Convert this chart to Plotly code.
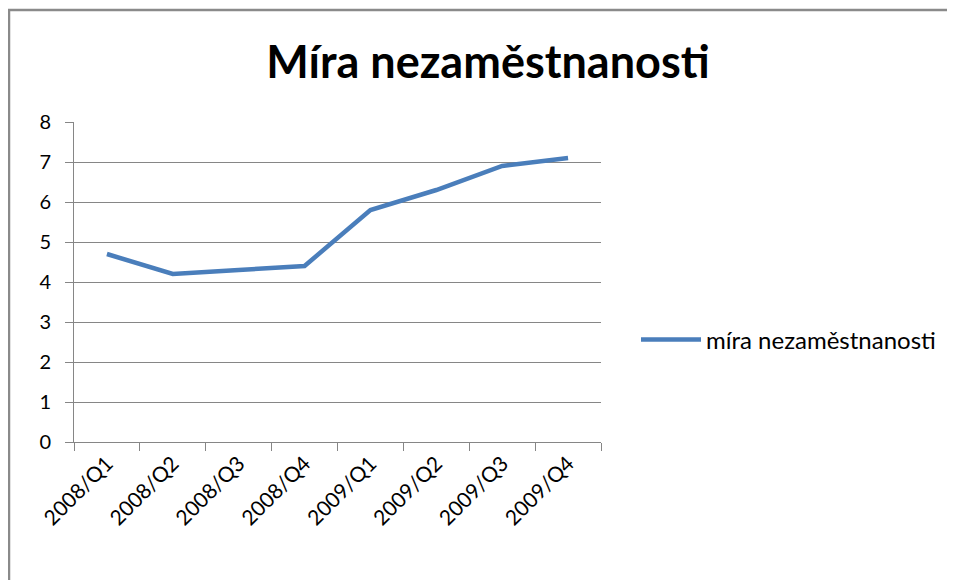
import plotly.graph_objects as go

categories = ["2008/Q1", "2008/Q2", "2008/Q3", "2008/Q4",
              "2009/Q1", "2009/Q2", "2009/Q3", "2009/Q4"]
values = [4.7, 4.2, 4.3, 4.4, 5.8, 6.3, 6.9, 7.1]
series_name = "míra nezaměstnanosti"
title_text = "Míra nezaměstnanosti"
y_ticks = [0, 1, 2, 3, 4, 5, 6, 7, 8]

# page body has an 8px margin, so compensate in the figure geometry
OFF = 8
W, H = 955 - OFF, 580 - OFF
L, T = 74 - OFF, 122 - OFF
pw, ph = 527, 320
R, B = W - L - pw, H - T - ph

FONT = "Lato, Calibri, Carlito, sans-serif"
GRID = "#868686"


def px_x(x):
    return (x - OFF - L) / pw


def px_y(y):
    return (T + ph - (y - OFF)) / ph


fig = go.Figure()
fig.add_trace(go.Scatter(
    x=categories, y=values, mode="lines", name=series_name,
    line=dict(color="#4a7ebb", width=4.5),
    showlegend=True,
))

fig.update_layout(
    width=W, height=H,
    margin=dict(l=L, r=R, t=T, b=B),
    paper_bgcolor="white", plot_bgcolor="white",
    font=dict(family=FONT, color="#000000"),
    title=dict(text="<b>" + title_text + "</b>", x=(488 - OFF) / W, xanchor="center",
               y=1 - (62 - OFF) / H, yanchor="middle",
               font=dict(size=45, family=FONT, color="#000000")),
    showlegend=True,
    legend=dict(x=px_x(636), xanchor="left", y=px_y(340), yanchor="middle",
                font=dict(size=24, family=FONT, color="#000000"),
                itemwidth=60, bgcolor="rgba(0,0,0,0)"),
    xaxis=dict(
        type="category", range=[-0.5, 7.5],
        showline=True, linecolor=GRID, linewidth=1,
        ticks="outside", tickson="boundaries", ticklen=8, tickcolor=GRID,
        showgrid=False, tickangle=-45,
        tickfont=dict(size=21, family=FONT, color="#000000"),
        zeroline=False,
    ),
    yaxis=dict(
        range=[0, 8], tickvals=y_ticks,
        showline=True, linecolor=GRID, linewidth=1,
        ticks="outside", ticklen=8, tickcolor=GRID,
        showgrid=True, gridcolor=GRID, gridwidth=1,
        tickfont=dict(size=20, family=FONT, color="#000000"),
        ticklabelstandoff=10,
        zeroline=False,
    ),
    shapes=[
        dict(type="line", xref="paper", yref="paper",
             x0=px_x(8), x1=px_x(955), y0=px_y(10), y1=px_y(10),
             line=dict(color="#8a8a8a", width=2.5)),
        dict(type="line", xref="paper", yref="paper",
             x0=px_x(9), x1=px_x(9), y0=px_y(10), y1=px_y(580),
             line=dict(color="#8a8a8a", width=2.5)),
    ],
)

fig.write_html("out.html")
